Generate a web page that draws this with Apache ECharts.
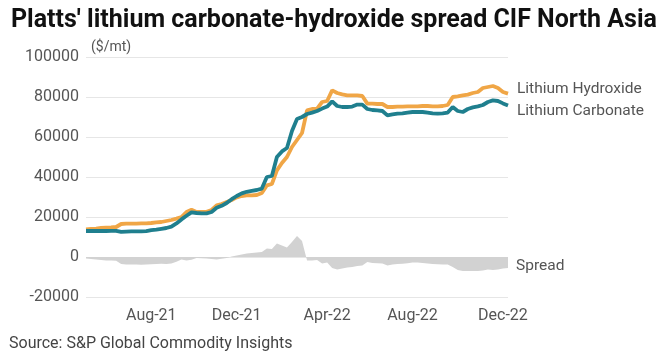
<!DOCTYPE html>
<html>
<head>
<meta charset="utf-8">
<script src="https://cdn.jsdelivr.net/npm/echarts@6/dist/echarts.min.js"></script>
<style>html,body{margin:0;padding:0;background:#fff}#c{width:671px;height:355px}</style>
</head>
<body>
<div id="c"></div>
<script>
// Weekly observations, starting 2021-05-05
var startDate = '2021-05-05';
var weeks = 85;
var tickMonths = ['Apr', 'Aug', 'Dec'];

var hydroxide = [13800,14000,14200,14500,14700,14800,15000,16500,16700,16700,
  16700,16800,16800,17000,17300,17500,18000,18500,19200,20000,
  22500,23600,22500,22500,22600,23500,25800,26500,27500,28500,
  29800,30500,30800,30800,31000,32000,35800,36500,43300,47000,
  50000,55000,58500,62000,73300,74000,74200,77500,78000,83300,
  82000,81300,80800,80800,80800,80500,76700,76700,76500,76500,
  75000,75000,75200,75200,75300,75300,75300,75500,75500,75300,
  75300,75500,76000,80000,80300,80800,81200,82000,82500,84500,
  85000,85500,84500,82500,81700];

var carbonate = [13000,13000,13000,13000,13000,13100,13100,12600,12700,12800,
  12800,12800,12900,13400,13700,14100,14500,15200,16800,18800,
  20600,22300,22000,21800,21800,22500,24600,25600,27000,28900,
  30500,31800,32600,33100,33500,34200,40000,40500,50000,52800,
  54500,63000,69000,70000,71500,72200,73000,74200,75200,77800,
  75500,75000,75000,75200,76200,76200,74000,73500,73300,73000,
  70800,71300,71700,71800,72200,72500,72500,72500,72200,71800,
  71700,71800,72200,75000,73000,72500,74000,74800,75300,76000,
  77500,78300,78000,76800,75800];

var spread = [-800,-1000,-1200,-1500,-1700,-1700,-1900,-3500,-3800,-3800,
  -3800,-3900,-3800,-3600,-3500,-3400,-3500,-3300,-2400,-1300,
  -1800,-1400,-500,-600,-800,-1000,-1200,-900,-500,300,
  700,1300,1800,2000,2300,2500,4200,4000,6700,5800,
  4800,7500,10500,8000,-1800,-1800,-1500,-3300,-2800,-5500,
  -6300,-5800,-5200,-5000,-4500,-4200,-2500,-3000,-3100,-3300,
  -4200,-3700,-3500,-3400,-3100,-2800,-2800,-3000,-3300,-3500,
  -3600,-3700,-3800,-5000,-6500,-7000,-7000,-7000,-7000,-6800,
  -6300,-6500,-6200,-5700,-5500];

var monthNames = ['Jan','Feb','Mar','Apr','May','Jun','Jul','Aug','Sep','Oct','Nov','Dec'];
var categories = [];
var t0 = new Date(startDate + 'T00:00:00Z').getTime();
for (var i = 0; i < weeks; i++) {
  var d = new Date(t0 + i * 7 * 86400000);
  categories.push(d.toISOString().slice(0, 10));
}
function tickLabel(s) {
  var d = new Date(s + 'T00:00:00Z');
  return monthNames[d.getUTCMonth()] + '-' + String(d.getUTCFullYear()).slice(2);
}
function isTick(s) {
  var d = new Date(s + 'T00:00:00Z');
  return d.getUTCDate() <= 7 && tickMonths.indexOf(monthNames[d.getUTCMonth()]) >= 0;
}

var FONT = 'Roboto';
var chart = echarts.init(document.getElementById('c'), null, {renderer: 'canvas'});
chart.setOption({
  animation: false,
  backgroundColor: '#fff',
  textStyle: {fontFamily: FONT},
  title: [{
    text: "Platts' lithium carbonate-hydroxide spread CIF North Asia",
    left: 6, top: 3,
    textStyle: {fontFamily: FONT, fontSize: 25, fontWeight: 'bold', color: '#111'}
  }, {
    text: 'Source: S&P Global Commodity Insights',
    left: 4, top: 331,
    textStyle: {fontFamily: FONT, fontSize: 16, fontWeight: 'normal', color: '#444'}
  }, {
    text: '($/mt)',
    left: 86, top: 35,
    textStyle: {fontFamily: FONT, fontSize: 14, fontWeight: 'normal', color: '#555'}
  }],
  grid: {left: 86, right: 163, top: 57, bottom: 58, containLabel: false},
  xAxis: {
    type: 'category',
    data: categories,
    boundaryGap: false,
    axisLine: {show: false},
    axisTick: {show: false},
    splitLine: {show: false},
    axisLabel: {
      interval: function (idx, val) { return isTick(val); },
      formatter: function (val) { return tickLabel(val); },
      color: '#555', fontSize: 16, fontFamily: FONT, margin: 11
    }
  },
  yAxis: {
    type: 'value',
    min: -20000, max: 100000, interval: 20000,
    axisLine: {show: false},
    axisTick: {show: false},
    splitLine: {lineStyle: {color: '#e6e6e6', width: 1}},
    axisLabel: {
      color: '#555', fontSize: 16, fontFamily: FONT, margin: 7,
      formatter: function (v) { return String(v); }
    }
  },
  series: [{
    name: 'Spread',
    type: 'line',
    data: spread,
    symbol: 'none',
    lineStyle: {width: 0},
    areaStyle: {color: '#d2d2d2', opacity: 1},
    endLabel: {show: true, formatter: '{a}', color: '#555', fontSize: 15.5, fontFamily: FONT, offset: [0, -2]},
    z: 1
  }, {
    name: 'Lithium Hydroxide',
    type: 'line',
    data: hydroxide,
    symbol: 'none',
    lineStyle: {width: 3.8, color: '#f0a646'},
    itemStyle: {color: '#f0a646'},
    endLabel: {show: true, formatter: '{a}', color: '#555', fontSize: 15.5, fontFamily: FONT, offset: [1, -4]},
    z: 2
  }, {
    name: 'Lithium Carbonate',
    type: 'line',
    data: carbonate,
    symbol: 'none',
    lineStyle: {width: 3.8, color: '#1f7f8e'},
    itemStyle: {color: '#1f7f8e'},
    endLabel: {show: true, formatter: '{a}', color: '#555', fontSize: 15.5, fontFamily: FONT, offset: [1, 6]},
    z: 3
  }]
});
</script>
</body>
</html>
